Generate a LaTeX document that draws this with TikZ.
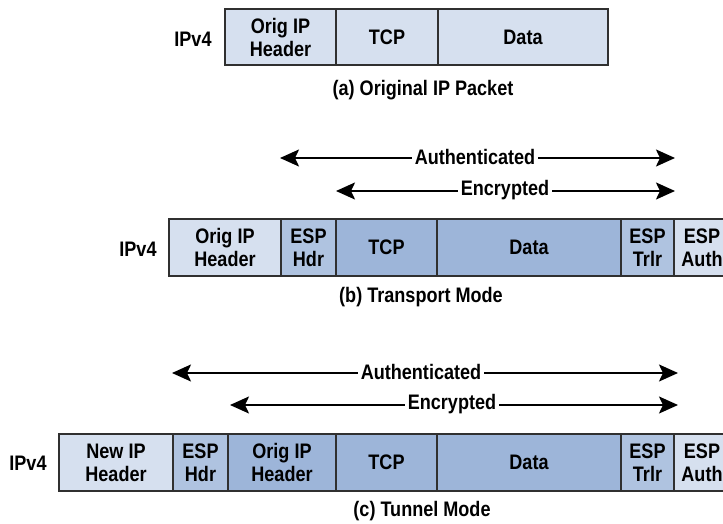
\documentclass[tikz,border=0pt]{standalone}
\usepackage{fontspec}
\setmainfont{Liberation Sans}[FakeStretch=0.86]
\usetikzlibrary{arrows.meta}
\definecolor{cLight}{HTML}{D6E0EF}
\definecolor{cMid}{HTML}{AFC3E0}
\definecolor{cDark}{HTML}{9DB5D9}
\definecolor{cEdge}{HTML}{303030}
\newcommand{\pcell}[7]{%
  \node[cellbox, fill=#6, minimum width={(#3-#2)*1pt}, minimum height={(#5-#4)*1pt}]
    (#1) at ({(#2+#3)/2},{(#4+#5)/2}) {#7};}
\tikzset{
  txt/.style={font=\bfseries\fontsize{21}{23}\selectfont, text=black},
  cellbox/.style={txt, draw=cEdge, line width=1.4pt, inner sep=0pt, align=center},
  plain/.style={txt, inner sep=0pt},
  arrlab/.style={txt, fill=white, inner sep=3pt},
  span/.style={line width=2pt, {Stealth[length=19pt,width=17pt,inset=4pt]}-{Stealth[length=19pt,width=17pt,inset=4pt]}}
}
\begin{document}
\begin{tikzpicture}[x=1pt,y=-1pt]
\fill[white] (0,0) rectangle (723,524);
\useasboundingbox (0,0) rectangle (723,524);
\clip (0,0) rectangle (723,524);
% (a)
\node[plain] (ipa) at (193,39) {IPv4};
\pcell{a1}{225}{336}{9}{65}{cLight}{Orig IP\\Header}
\pcell{a2}{336}{438}{9}{65}{cLight}{TCP}
\pcell{a3}{438}{608}{9}{65}{cLight}{Data}
\node[plain] (capa) at (423,90) {(a) Original IP Packet};
% (b)
\coordinate (bAl) at (280,158); \coordinate (bAr) at (675,158);
\coordinate (bEl) at (336,191); \coordinate (bEr) at (675,191);
\draw[span] (bAl) -- (bAr);
\draw[span] (bEl) -- (bEr);
\node[arrlab] (bAuth) at (475,157) {Authenticated};
\node[arrlab] (bEnc) at (505,190) {Encrypted};
\node[plain] (ipb) at (138,249) {IPv4};
\pcell{b1}{169}{281}{219}{276}{cLight}{Orig IP\\Header}
\pcell{b2}{281}{336}{219}{276}{cMid}{ESP\\Hdr}
\pcell{b3}{336}{437}{219}{276}{cDark}{TCP}
\pcell{b4}{437}{621}{219}{276}{cDark}{Data}
\pcell{b5}{621}{674}{219}{276}{cMid}{ESP\\Trlr}
\pcell{b6}{674}{730}{219}{276}{cLight}{ESP\\Auth}
\node[plain] (capb) at (421,297) {(b) Transport Mode};
% (c)
\coordinate (cAl) at (172,373); \coordinate (cAr) at (678,373);
\coordinate (cEl) at (230,405); \coordinate (cEr) at (678,405);
\draw[span] (cAl) -- (cAr);
\draw[span] (cEl) -- (cEr);
\node[arrlab] (cAuth) at (421,372) {Authenticated};
\node[arrlab] (cEnc) at (452,404) {Encrypted};
\node[plain] (ipc) at (28,463) {IPv4};
\pcell{c1}{59}{173}{434}{491}{cLight}{New IP\\Header}
\pcell{c2}{173}{228}{434}{491}{cMid}{ESP\\Hdr}
\pcell{c3}{228}{336}{434}{491}{cDark}{Orig IP\\Header}
\pcell{c4}{336}{437}{434}{491}{cDark}{TCP}
\pcell{c5}{437}{621}{434}{491}{cDark}{Data}
\pcell{c6}{621}{674}{434}{491}{cMid}{ESP\\Trlr}
\pcell{c7}{674}{730}{434}{491}{cLight}{ESP\\Auth}
\node[plain] (capc) at (422,511) {(c) Tunnel Mode};
\end{tikzpicture}
\end{document}
